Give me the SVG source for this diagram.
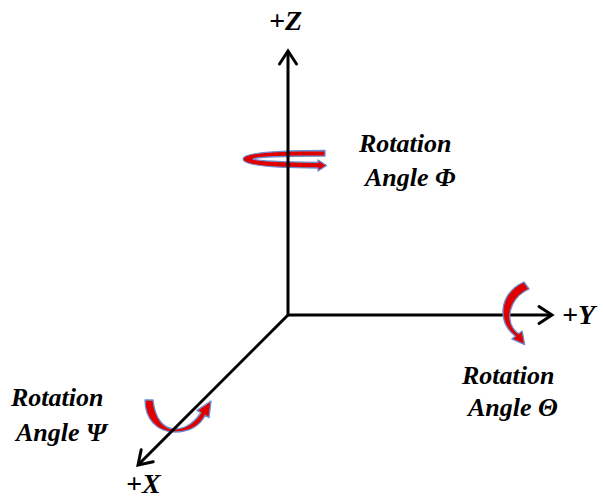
<svg xmlns="http://www.w3.org/2000/svg" width="603" height="500" viewBox="0 0 603 500">
<style>
.lbl{font-family:"Liberation Serif","Times New Roman",serif;font-weight:bold;font-style:italic;font-size:26px;fill:#000}
.ax{font-family:"Liberation Serif","Times New Roman",serif;font-weight:bold;font-style:italic;font-size:28px;fill:#000}
.axis{stroke:#000;stroke-width:3;fill:none}
.rot{fill:#e00000;stroke:#6a8ed0;stroke-width:1.3;stroke-linejoin:round}
</style>
<defs>
<marker id="open" markerUnits="userSpaceOnUse" viewBox="-16 -11 20 22" markerWidth="20" markerHeight="22" refX="0" refY="0" orient="auto">
<path d="M -13 -8.5 L 0 0 L -13 8.5" fill="none" stroke="#000" stroke-width="3" stroke-linecap="round"/>
</marker>
</defs>
<rect width="603" height="500" fill="#fff"/>
<g id="rotZ"><path class="rot" d="M 325 150.5 L 325 156 C 290 156 256 157 253 159 C 256 161 290 162 318 162.5 L 318 160 L 326.5 165.5 L 318 171 L 318 168 C 280 168 243 166 243 159 C 243 152 285 150.5 325 150.5 Z"/></g>
<g id="rotX"><path class="rot" d="M 145 400 L 153 400 C 155 418 163 429 175 429 C 186 429 196 421 200.9 412.7 L 197 410.4 L 211 401 L 209 417.6 L 205.1 415.3 C 200 426 189 432 175 432 C 157 432 145 419 145 400 Z"/></g>
<g id="connectors">
<line class="axis" x1="288" y1="316" x2="288" y2="51" marker-end="url(#open)"/>
<line class="axis" x1="287" y1="315" x2="552" y2="315" marker-end="url(#open)"/>
<line class="axis" x1="289" y1="314" x2="138" y2="465" marker-end="url(#open)"/>
</g>
<g id="rotY"><path class="rot" d="M 524 282 L 529 289 C 513 296 507 312 511 324 C 513 329 516 332 518.6 333.8 L 522.2 331.1 L 524.6 344.6 L 511.8 338.9 L 515.4 336.2 C 510 332 506 328 504 320 C 500 304 508 289 524 282 Z"/></g>
<g id="axisZ"><text class="ax" x="269" y="30">+Z</text></g>
<g id="axisY"><text class="ax" x="562" y="324">+Y</text></g>
<g id="axisX"><text class="ax" x="126" y="493">+X</text></g>
<g id="labelPhi"><text class="lbl" x="359" y="152">Rotation</text><text class="lbl" x="365" y="186">Angle Φ</text></g>
<g id="labelTheta"><text class="lbl" x="462" y="384">Rotation</text><text class="lbl" x="468" y="416">Angle Θ</text></g>
<g id="labelPsi"><text class="lbl" x="11" y="406">Rotation</text><text class="lbl" x="16" y="441">Angle Ψ</text></g>
</svg>
